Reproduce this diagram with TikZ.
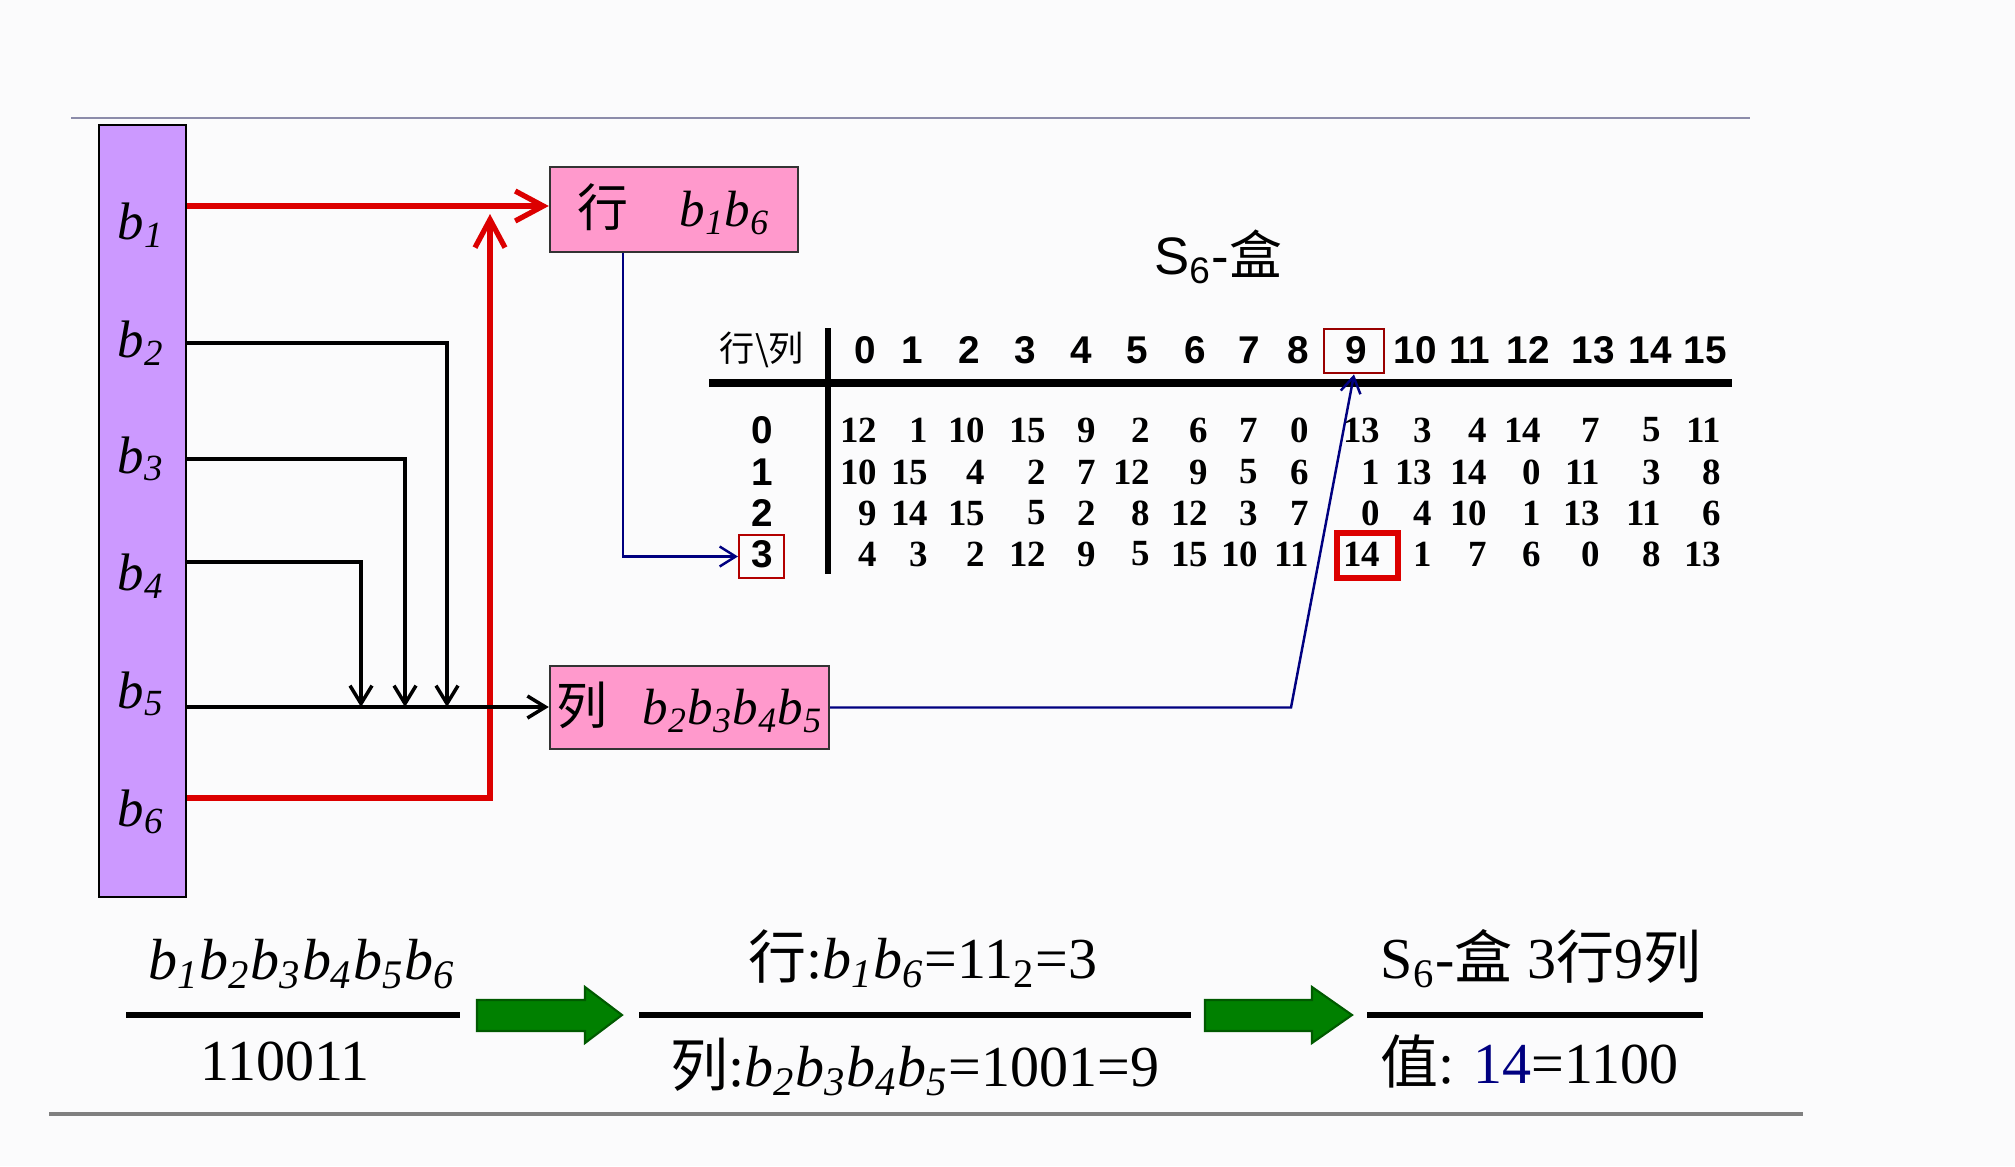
\documentclass[tikz,border=0pt]{standalone}
\usepackage{fontspec}
\setmainfont{Liberation Serif}
\setsansfont{Liberation Sans}
\newfontfamily\cjk{Noto Sans CJK SC}
\usetikzlibrary{arrows.meta}
\definecolor{barviolet}{RGB}{204,153,255}
\definecolor{boxpink}{RGB}{255,153,204}
\definecolor{linered}{RGB}{220,0,0}
\definecolor{linenavy}{RGB}{0,0,128}
\definecolor{arrowgreen}{RGB}{0,128,0}
\definecolor{pagebg}{RGB}{251,251,252}
\definecolor{framegray}{RGB}{140,140,170}
\newcommand{\bsub}[1]{\textit{b}\textsubscript{\textit{#1}}}

\begin{document}
\begin{tikzpicture}[x=1cm, y=-1cm, line width=1pt,
  bitlabel/.style={font=\fontsize{15}{17}\selectfont},
  keybox/.style={draw=black!80, line width=0.7pt, fill=boxpink, inner sep=0pt, font=\fontsize{14.5}{17}\selectfont},
  hdr/.style={font=\sffamily\bfseries\fontsize{11}{13}\selectfont},
  cell/.style={anchor=east, inner sep=0pt, font=\bfseries\fontsize{10.5}{12}\selectfont},
  redarrow/.style={linered, line width=1.5pt, -{Straight Barb[length=2.8mm,width=3mm]}},
  blackarrow/.style={-{Straight Barb[length=1.8mm,width=2.2mm]}},
  navyarrow/.style={linenavy, line width=0.7pt, -{Straight Barb[length=1.6mm,width=2mm]}},
  eqtext/.style={font=\fontsize{16.5}{20}\selectfont},
  greenarrow/.style={fill=arrowgreen, draw=arrowgreen!70!black, line width=0.6pt}]

\useasboundingbox[fill=pagebg] (0,0) rectangle (20.15,11.66);

% slide frame
\draw[framegray, line width=0.8pt] (0.71,1.18) -- (17.50,1.18);
\draw[gray, line width=1.2pt] (0.49,11.14) -- (18.03,11.14);

% key bits
\node[draw, line width=0.8pt, fill=barviolet, minimum width=0.87cm, minimum height=7.72cm, inner sep=0pt] (bar) at (1.425,5.11) {};
\foreach \i/\yy in {1/2.25, 2/3.43, 3/4.59, 4/5.76, 5/6.94, 6/8.12}
  \node[bitlabel] (b\i) at (1.41,\yy) {\bsub{\i}};
\foreach \i/\yy in {1/2.06, 2/3.43, 3/4.59, 4/5.62, 5/7.07, 6/7.98}
  \coordinate (o\i) at (bar.east |- 0,\yy);

\node[keybox, minimum width=2.48cm, minimum height=0.85cm] (rowbox) at (6.74,2.095) {{\cjk 行}\quad\bsub{1}\bsub{6}};
\node[keybox, minimum width=2.79cm, minimum height=0.83cm] (colbox) at (6.895,7.075) {{\cjk 列}\hspace{0.7em}\bsub{2}\bsub{3}\bsub{4}\bsub{5}};

\coordinate (redtop) at (4.90,2.14);
\draw[redarrow] (o1) -- (o1 -| rowbox.west);
\draw[redarrow] (o6) -| (redtop);
\foreach \i/\xx in {2/4.47, 3/4.05, 4/3.61}
  \draw[blackarrow] (o\i) -| (o5 -| \xx,0);
\draw[blackarrow] (o5) -- (o5 -| colbox.west);

% S-box table
\node[font=\cjk\fontsize{10}{12}\selectfont] (corner) at (7.62,3.50) {行\textbackslash 列};
\foreach \xx [count=\n from 0] in {8.65,9.12,9.69,10.25,10.81,11.37,11.95,12.49,12.98,13.56,14.15,14.70,15.28,15.93,16.50,17.05}
  \node[hdr] (c\n) at (\xx,3.50) {\n};
\foreach \r/\yy in {0/4.30, 1/4.72, 2/5.13, 3/5.54}
  \node[hdr] (r\r) at (7.62,\yy) {\r};
\draw[line width=2pt] (7.09,3.83) -- (17.32,3.83);
\draw[line width=1.5pt] (8.28,3.28) -- (8.28,5.74);

\foreach \xx/\da/\db/\dc/\dd [count=\k from 0] in {8.79/12/10/9/4, 9.30/1/15/14/3, 9.87/10/4/15/2, 10.48/15/2/5/12,
    10.98/9/7/2/9, 11.52/2/12/8/5, 12.10/6/9/12/15, 12.60/7/5/3/10, 13.11/0/6/7/11, 13.82/13/1/0/14,
    14.34/3/13/4/1, 14.89/4/14/10/7, 15.43/14/0/1/6, 16.02/7/11/13/0, 16.63/5/3/11/8, 17.23/11/8/6/13}{
  \node[cell] (v0-\k) at (\xx,4.30) {\da};
  \node[cell] (v1-\k) at (\xx,4.72) {\db};
  \node[cell] (v2-\k) at (\xx,5.13) {\dc};
  \node[cell] (v3-\k) at (\xx,5.54) {\dd};
}

\node[draw=red!70!black, line width=0.6pt, minimum width=0.45cm, minimum height=0.43cm] (r3box) at (7.615,5.565) {};
\node[draw=red!60!black, line width=0.8pt, minimum width=0.60cm, minimum height=0.44cm] (c9box) at (13.54,3.51) {};
\node[draw=linered, line width=1.6pt, minimum width=0.61cm, minimum height=0.45cm] (v14box) at (13.675,5.555) {};

\node[font=\sffamily\fontsize{15}{17}\selectfont] (stitle) at (12.18,2.57) {S\textsubscript{6}-{\cjk 盒}};

\draw[navyarrow] (rowbox.south -| 6.23,0) |- (r3box.west);
\draw[navyarrow] (colbox.east) -- (colbox.east -| 12.91,0) -- (c9box.south);

% worked example
\node[eqtext] (bits) at (3.02,9.64) {\bsub{1}\bsub{2}\bsub{3}\bsub{4}\bsub{5}\bsub{6}};
\draw[line width=1.5pt] (1.26,10.15) -- (4.60,10.15);
\node[eqtext] (binary) at (2.85,10.61) {110011};

\draw[greenarrow] (4.77,10.00) -- (5.85,10.00) -- (5.85,9.87) -- (6.22,10.15) -- (5.85,10.43) -- (5.85,10.31) -- (4.77,10.31) -- cycle;

\node[eqtext] (rowcalc) at (9.23,9.59) {{\cjk 行}:\bsub{1}\bsub{6}=11\textsubscript{2}=3};
\draw[line width=1.5pt] (6.39,10.15) -- (11.91,10.15);
\node[eqtext] (colcalc) at (9.15,10.67) {{\cjk 列}:\bsub{2}\bsub{3}\bsub{4}\bsub{5}=1001=9};

\draw[greenarrow] (12.05,10.00) -- (13.12,10.00) -- (13.12,9.87) -- (13.52,10.15) -- (13.12,10.43) -- (13.12,10.31) -- (12.05,10.31) -- cycle;

\node[eqtext] (lookup) at (15.41,9.59) {S\textsubscript{6}-{\cjk 盒} 3{\cjk 行}9{\cjk 列}};
\draw[line width=1.5pt] (13.67,10.15) -- (17.03,10.15);
\node[eqtext] (result) at (15.29,10.61) {{\cjk 值}: \textcolor{linenavy}{14}=1100};

\end{tikzpicture}
\end{document}
